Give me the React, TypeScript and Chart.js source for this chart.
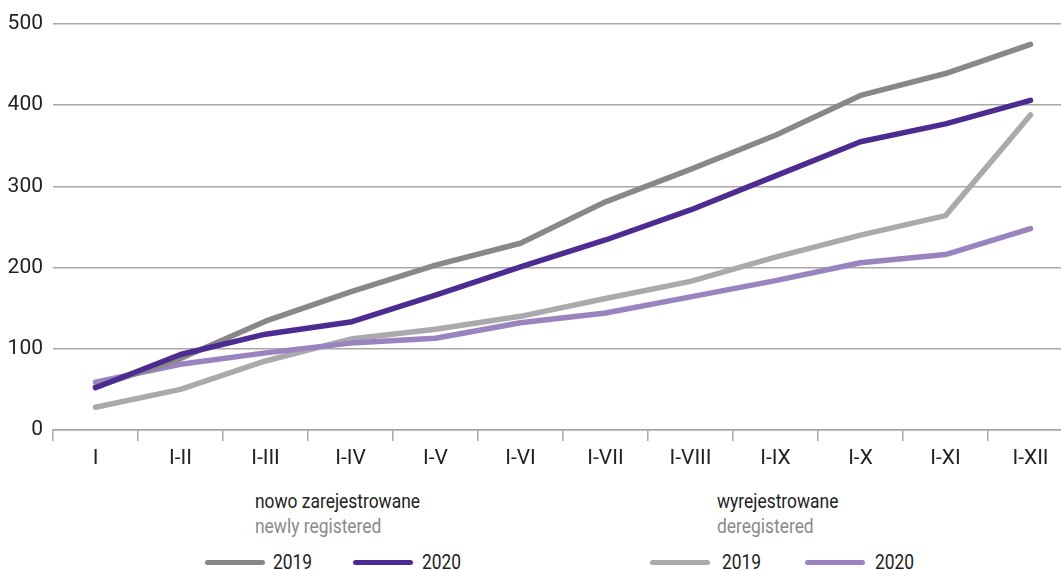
import React, { useEffect, useRef } from "react";
import { Chart, registerables } from "chart.js";

Chart.register(...registerables);

const categories = ["I", "I-II", "I-III", "I-IV", "I-V", "I-VI", "I-VII", "I-VIII", "I-IX", "I-X", "I-XI", "I-XII"];
const newly2019 = [53, 88, 134, 170, 203, 230, 281, 321, 363, 412, 439, 475];
const newly2020 = [52, 93, 118, 133, 166, 201, 234, 271, 313, 355, 377, 406];
const dereg2019 = [28, 50, 85, 112, 124, 140, 162, 183, 213, 240, 264, 388];
const dereg2020 = [59, 81, 95, 107, 113, 132, 144, 164, 184, 206, 216, 248];
const yTicks = [0, 100, 200, 300, 400, 500];

const C_NEW19 = "#88888b";
const C_NEW20 = "#4d2c91";
const C_DER19 = "#aaaaac";
const C_DER20 = "#9a84c0";
const FONT = "Roboto, 'DejaVu Sans', sans-serif";

export default function App() {
  const ref = useRef<HTMLCanvasElement | null>(null);

  useEffect(() => {
    document.body.style.margin = "0";
    const el = ref.current!;
    const mk = (label: string, data: number[], color: string, order: number) => ({
      label,
      data,
      borderColor: color,
      backgroundColor: color,
      borderWidth: 5.5,
      pointRadius: 0,
      tension: 0,
      borderCapStyle: "round" as const,
      borderJoinStyle: "round" as const,
      order,
    });
    const chart = new Chart(el, {
      type: "line",
      data: {
        labels: categories,
        datasets: [
          mk("nowo zarejestrowane 2019", newly2019, C_NEW19, 1),
          mk("nowo zarejestrowane 2020", newly2020, C_NEW20, 0),
          mk("wyrejestrowane 2019", dereg2019, C_DER19, 3),
          mk("wyrejestrowane 2020", dereg2020, C_DER20, 2),
        ],
      },
      options: {
        animation: false,
        responsive: false,
        layout: { padding: { top: 24, left: 0, right: 7, bottom: 0 } },
        plugins: { legend: { display: false }, tooltip: { enabled: false } },
        scales: {
          x: {
            offset: true,
            grid: {
              offset: true,
              drawOnChartArea: false,
              drawTicks: true,
              tickLength: 11,
              color: "#a8a8a8",
              lineWidth: 1.5,
            },
            border: { display: true, color: "#a8a8a8", width: 1.5 },
            ticks: {
              color: "#222",
              font: { family: FONT, size: 21 },
              padding: 5,
              maxRotation: 0,
              autoSkip: false,
            },
            afterFit: (s: any) => {
              s.height = 50;
            },
          },
          y: {
            min: 0,
            max: 500,
            afterBuildTicks: (s: any) => {
              s.ticks = yTicks.map((v) => ({ value: v }));
            },
            grid: { drawTicks: false, color: "#a8a8a8", lineWidth: 1.5 },
            border: { display: false },
            ticks: {
              color: "#222",
              font: { family: FONT, size: 21 },
              padding: 10,
            },
            afterFit: (s: any) => {
              s.width = 53;
            },
          },
        },
      },
    });
    return () => chart.destroy();
  }, []);

  const txt = (extra: React.CSSProperties): React.CSSProperties => ({
    position: "absolute",
    fontFamily: FONT,
    fontSize: 20,
    lineHeight: "24px",
    whiteSpace: "nowrap",
    transform: "scaleX(0.87)",
    transformOrigin: "left center",
    ...extra,
  });
  const sw = (left: number, color: string): React.CSSProperties => ({
    position: "absolute",
    left,
    top: 560,
    width: 60,
    height: 5,
    borderRadius: 3,
    background: color,
  });

  return (
    <div style={{ position: "absolute", left: 0, top: 0, width: 1061, height: 570, overflow: "hidden", background: "#fff" }}>
      <canvas ref={ref} width={1080} height={480} style={{ position: "absolute", left: 0, top: 0, width: 1080, height: 480 }} />
      <div style={txt({ left: 255, top: 489, color: "#222" })}>nowo zarejestrowane</div>
      <div style={txt({ left: 255, top: 514, color: "#8a8a8a" })}>newly registered</div>
      <div style={sw(205, C_NEW19)} />
      <div style={txt({ left: 273, top: 550, color: "#222" })}>2019</div>
      <div style={sw(353, C_NEW20)} />
      <div style={txt({ left: 422, top: 550, color: "#222" })}>2020</div>
      <div style={txt({ left: 717, top: 489, color: "#222" })}>wyrejestrowane</div>
      <div style={txt({ left: 717, top: 514, color: "#8a8a8a" })}>deregistered</div>
      <div style={sw(650, C_DER19)} />
      <div style={txt({ left: 722, top: 550, color: "#222" })}>2019</div>
      <div style={sw(805, C_DER20)} />
      <div style={txt({ left: 875, top: 550, color: "#222" })}>2020</div>
    </div>
  );
}
